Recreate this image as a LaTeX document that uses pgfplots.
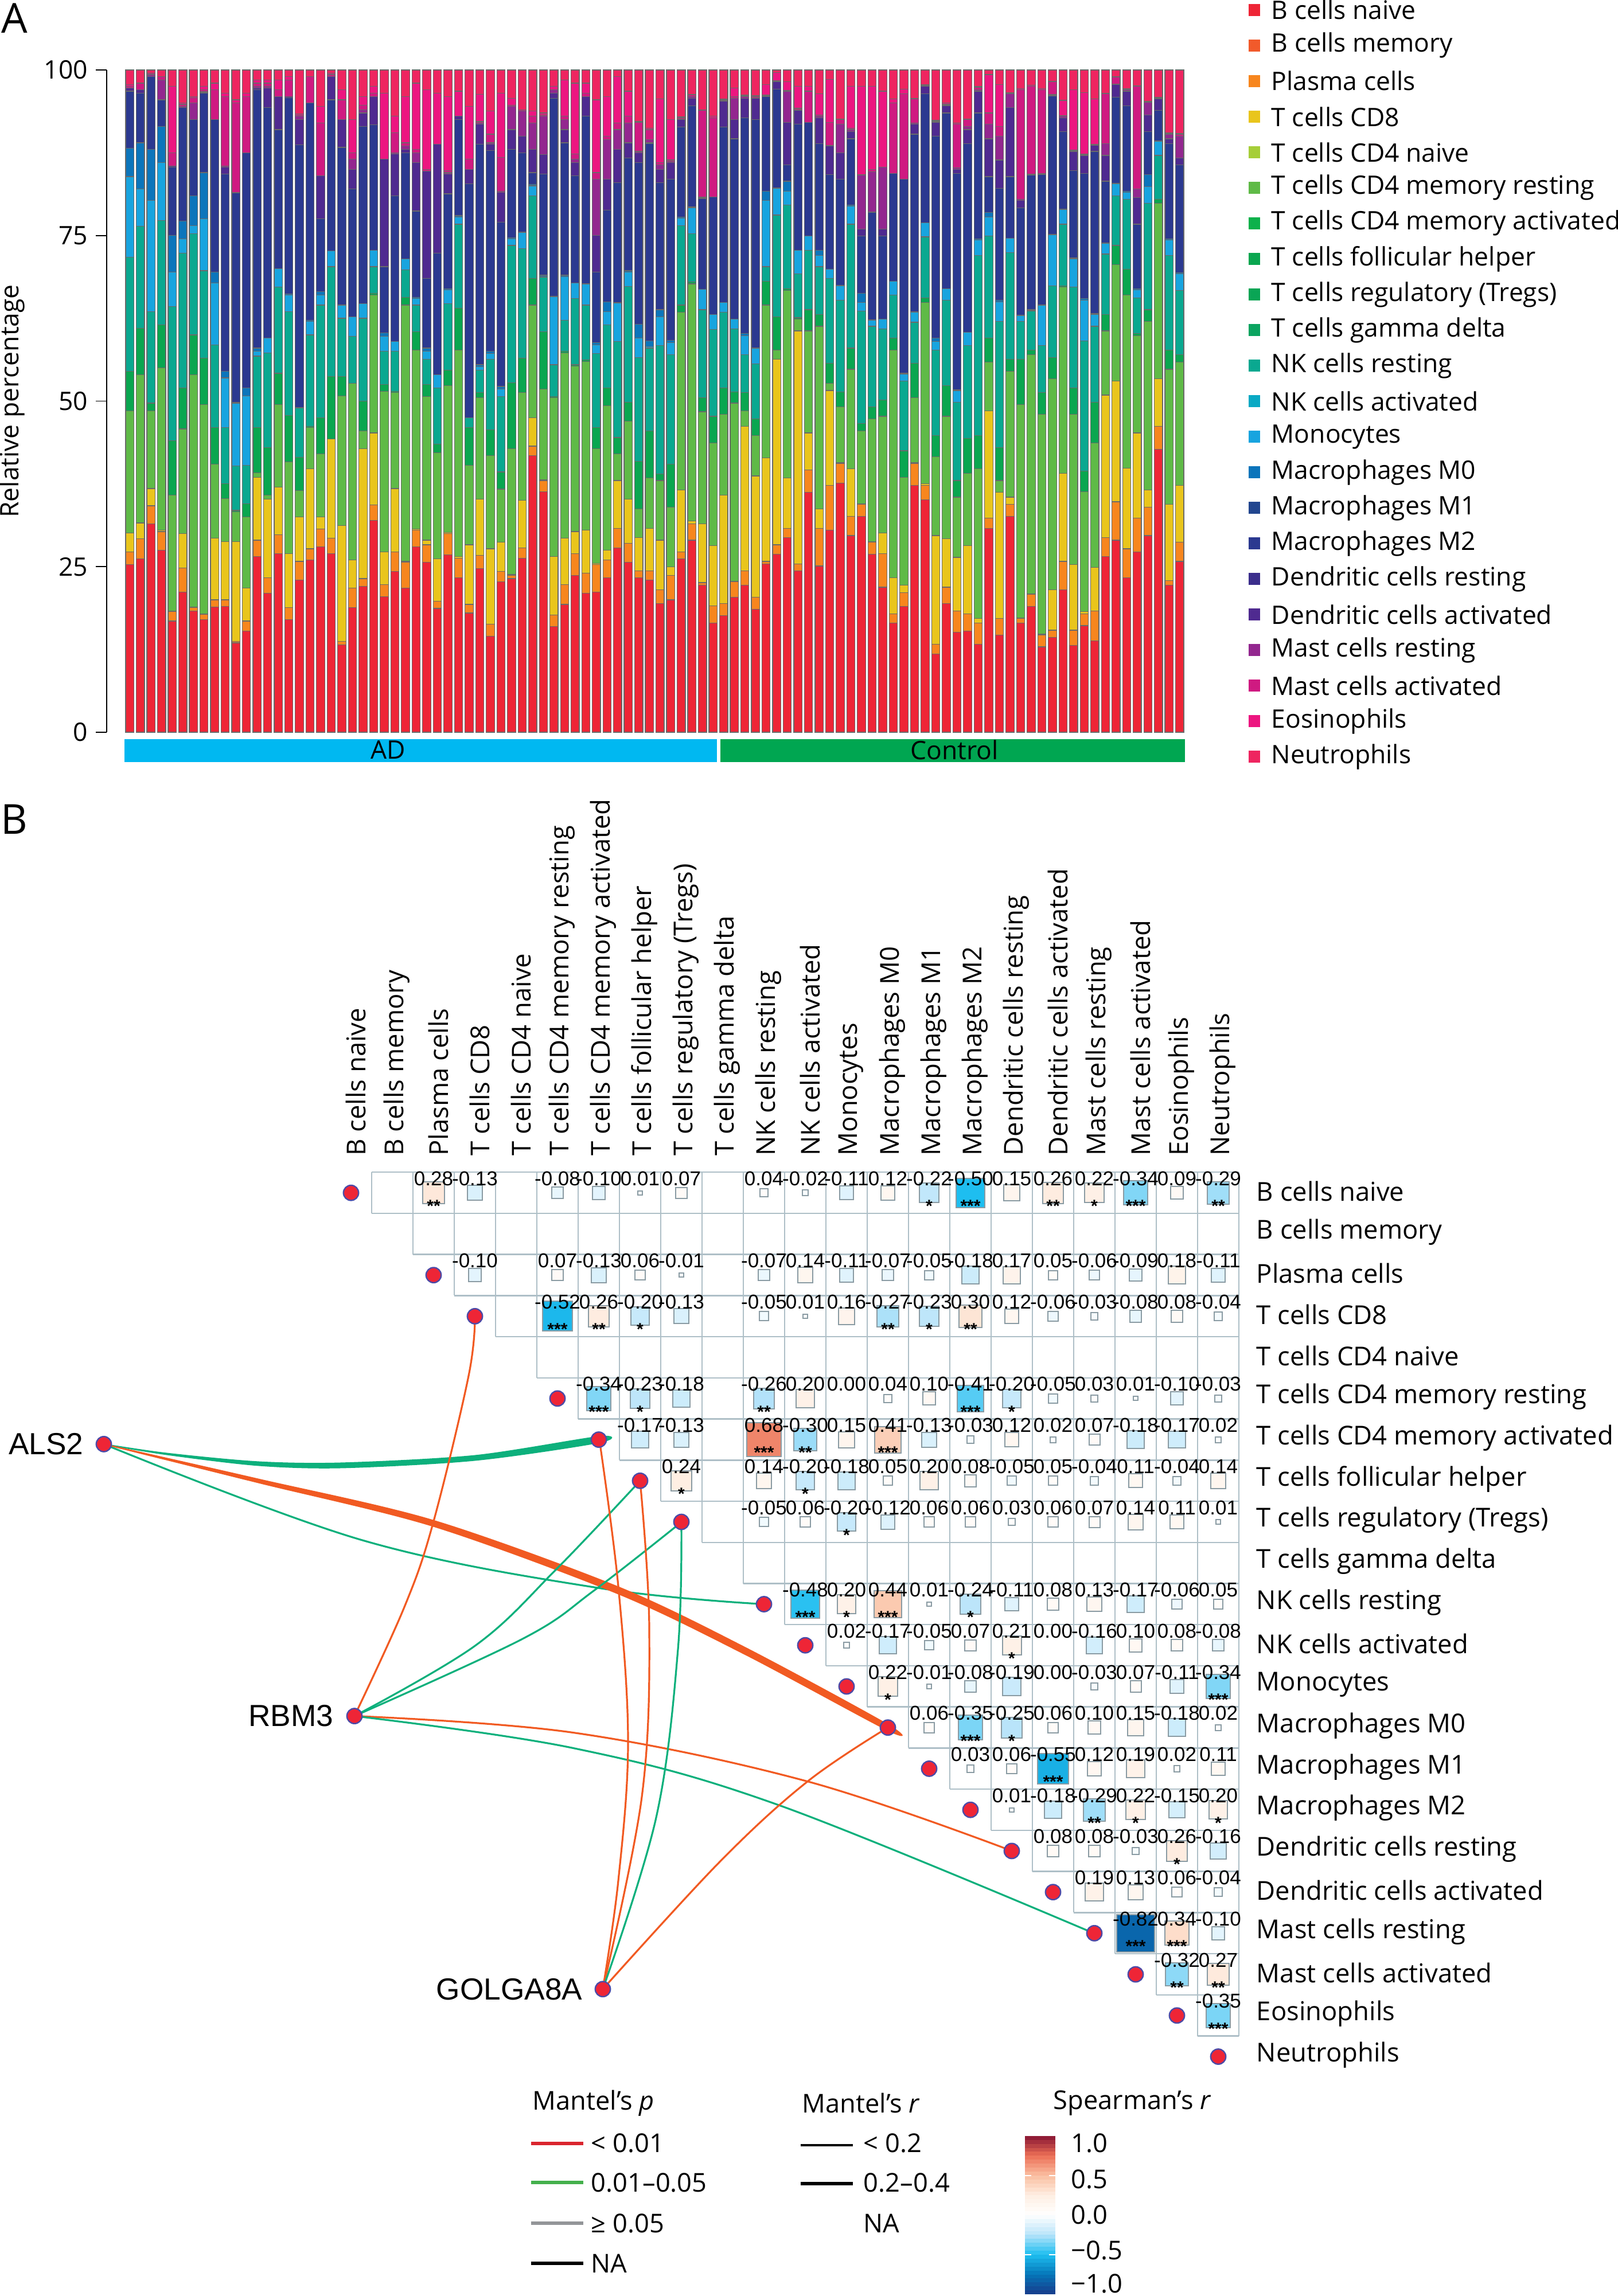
\documentclass[border=0pt]{standalone}
\usepackage{fontspec}
\usepackage{pgfplots}
\usepackage{pgfplotstable}
\pgfplotsset{compat=1.18}
\setmainfont{Open Sans}
\newfontfamily\hv{Liberation Sans}
\newcommand\lf{\fontsize{11.1}{13}\selectfont}
\newcommand\pf{\fontsize{11.35}{13}\selectfont}
\newcommand\lgf{\fontsize{11.3}{13}\selectfont}

\definecolor{c1}{HTML}{EE2536}\definecolor{c2}{HTML}{F15A2B}\definecolor{c3}{HTML}{F7861E}
\definecolor{c4}{HTML}{E9C51C}\definecolor{c5}{HTML}{A6CE39}\definecolor{c6}{HTML}{5FBA47}
\definecolor{c7}{HTML}{0DB14B}\definecolor{c8}{HTML}{0AA650}\definecolor{c9}{HTML}{0AA555}
\definecolor{c10}{HTML}{0BA460}\definecolor{c11}{HTML}{0AA890}\definecolor{c12}{HTML}{0AA9C4}
\definecolor{c13}{HTML}{18A4DF}\definecolor{c14}{HTML}{0C75BB}\definecolor{c15}{HTML}{22468F}
\definecolor{c16}{HTML}{2B3990}\definecolor{c17}{HTML}{3B2E8C}\definecolor{c18}{HTML}{4F2A90}
\definecolor{c19}{HTML}{93278F}\definecolor{c20}{HTML}{CF1A81}\definecolor{c21}{HTML}{EC1680}
\definecolor{c22}{HTML}{EE2560}
\definecolor{baredge}{HTML}{6A6A6A}
\definecolor{gridc}{HTML}{AEBFC7}
\definecolor{markedge}{HTML}{8A9BA3}
\definecolor{linkor}{HTML}{F15A22}
\definecolor{linkgr}{HTML}{0DB07C}
\definecolor{dotedge}{HTML}{4B4BA8}
\definecolor{stripad}{HTML}{00B8F1}
\definecolor{stripct}{HTML}{00A651}
\definecolor{lred}{HTML}{DA252E}
\definecolor{lgreen}{HTML}{44B04C}
\definecolor{lgrey}{HTML}{939598}

\pgfplotsset{colormap={spear}{rgb255(0cm)=(24,60,140); rgb255(1cm)=(5,118,185); rgb255(2cm)=(30,190,240); rgb255(3cm)=(185,228,250); rgb255(4cm)=(255,255,255); rgb255(5cm)=(254,238,226); rgb255(6cm)=(250,190,160); rgb255(7cm)=(235,110,85); rgb255(8cm)=(135,20,50)}}

% cumulative tops of the bands of each bar
\pgfplotstableread{
i naive plasma cd8 rest act nk mono m0 m2 dc mast mact eos neut
0 25.3 27.2 30.1 48.5 54.5 71.7 83.9 88.2 96.8 97.3 97.3 97.5 97.8 100
1 26.2 29.2 31.6 54 61 76.4 82 89 96.5 97 97 98 98 100
2 31.5 34.2 36.8 48.5 49.7 63.5 80.3 88 99 99 99.3 99.5 99.5 100
3 27.5 30.3 30.5 55 61.5 77.3 86 91.5 95.5 95.5 98.5 99 99 100
4 16.8 18.2 18.3 35.8 44 64.3 69.5 75 85.3 85.5 85.5 87.5 97.5 100
5 21.2 24.8 30 45.8 52 72.3 74.5 77.2 94.3 94.3 94.5 94.8 95 100
6 18.3 18.8 18.9 54 60 75.3 76.5 81 92.5 92.5 95 95.8 96 100
7 17 17.8 17.9 49.5 56.5 69.7 77.5 84.5 96.5 96.6 96.7 97 97.5 100
8 18.9 20 29.3 40.5 46 58.5 67.8 69.5 92.5 92.5 92.5 97 98 100
9 19 20 28.8 35.3 37.5 46 53.5 54.5 84.3 85.3 85.5 96 96.5 100
10 13.5 13.7 28.8 33.3 33.5 40.2 49.7 49.8 81.4 81.4 81.5 95 95.5 100
11 15.3 16.8 21.8 32.5 34.5 40.3 50.8 52 87.5 87.5 87.5 96 96.5 100
12 26.5 29 38.5 39.2 46 56.8 57.5 58 97 97.3 97.5 98 98.5 100
13 21 23.3 35.2 35.8 43 57.3 59.5 59.5 94.3 97.3 97.5 98 98.5 100
14 27 29.8 37 49.5 54.2 67.2 70 70 91 96 96 97 98.5 100
15 17 18.8 27 40.8 47.8 63.5 66 66.2 95.8 96 96 98.5 99 100
16 23 25.8 32.5 36.5 41.5 49 49 49 88.7 92.5 93 93.2 93.4 100
17 26 27.7 39.8 46 46.2 60 62 62.2 95 95 95 99 99 100
18 28 30.7 32.5 42 47.5 64.5 66 66.5 77.5 84 84 92 94.5 100
19 27 29.3 44.3 44.3 53.7 70.3 72.7 72.7 95.5 99 99 99.3 99.5 100
20 13.2 13.7 31.2 50.8 53.7 62.5 64.5 64.5 88.3 92.5 92.5 95.5 97 100
21 18.8 21.8 26 52.7 52.7 59.8 62.7 62.7 82 85 86.5 87.5 92.5 100
22 22 23.2 42.8 45.5 50 62.5 64.7 64.7 91.5 93.5 94 94.7 96 100
23 32 34.3 45.2 66 66.3 70.3 72.8 72.8 91.7 96 96 96.5 97.5 100
24 20.5 22.3 27.2 51.5 52.5 57.5 59.8 60.3 70.3 86.5 86.5 86.5 96.5 100
25 24.3 27.2 36.8 51.3 51.5 57.5 59 59 81 87.3 87.5 90.5 93 100
26 21.8 25.7 25.8 64.5 65.7 69.8 71.5 71.5 87.5 88 88.5 89 96 100
27 28 30.5 30.7 57.7 60.5 64.5 65.5 65.7 78.7 86 87.5 88 98 100
28 25.7 28.3 29 50.7 52.5 56.3 57.5 58 68.5 84.7 84.7 85 97 100
29 18.7 19.8 26.2 42.2 43.5 52 54 54 72.3 88.8 88.8 88.8 96.5 100
30 26.8 30 30.2 52.3 54.7 64.7 66.8 67 81.3 84.3 84.5 84.8 96 100
31 23.3 26.3 26.5 57.7 64 76.7 77.8 78 92.5 93 93 93 96.8 100
32 18 19.3 28.3 40.3 46 47.5 47.5 47.5 82.8 85 85 86.5 94.5 100
33 24.7 26.7 35.2 50.5 51.3 54.7 55.2 55.5 88.8 91.8 92 92.2 96.3 100
34 14.5 16.3 27.7 41.8 45.7 56.3 57.2 57.5 87.8 88.8 89 90.3 93.8 100
35 22.7 24.3 28.7 36.7 39.3 50.7 51.8 52.2 77 81.5 81.7 86.8 96.5 100
36 23.2 23.7 23.8 42.8 52.8 73.5 74.5 74.7 88 91 94.5 94.7 95.7 100
37 26.3 27.8 35 51.3 56.5 73 75.5 75.5 87.5 90 93.8 94 94 100
38 41.8 43.2 47.5 64.5 68.5 81 82.5 82.7 84.5 88 92 93 93.8 100
39 36.3 38 38.1 51.8 60.5 68.7 68.8 69 84.3 87.2 93 93.2 93.5 100
40 16 17.7 26.5 50.5 50.7 55.5 65.8 65.8 95.7 96.5 97 97 97.5 100
41 19.3 22.3 29.3 57.3 57.5 62.2 68.8 69 89 91 92.5 93 98.5 100
42 23.7 27 30.3 55.3 55.5 65.5 67.8 67.8 84 86 86.5 87.3 98 100
43 21 24 30.5 56 56.2 64.5 67.7 67.7 93 96 96 96.5 98 100
44 21.2 25.3 25.5 42.8 46 57.2 58.5 58.8 69.5 75 83.5 84.5 95.5 100
45 23.3 26 27.5 49.3 52 61.5 63.5 65 78.8 83.5 89.5 90 96 100
46 27.8 30.8 38 42 44.5 59 64.8 64.9 83 88 91 92 99 100
47 25.7 28.5 35.2 47 49.8 67.3 69.5 69.7 86.7 89 92 93 96.8 100
48 23.3 24.4 29.4 33.7 40.9 56.6 59.5 61.6 86 87.5 87.7 92.1 92.2 100
49 23 24.4 30.8 38.4 45.5 58 58.2 59.1 88.9 89 89.5 91 91.2 100
50 19.4 21.5 29 38 39 58.4 62.7 63.8 83 85 85.7 86 95.6 100
51 20 23.7 25 34 40.5 57 58.8 59.2 83.5 86 86.2 86.4 92.5 100
52 26.2 27.2 36.6 63.4 64.5 76.5 77.6 77.8 91.4 92.5 92.6 92.8 92.9 100
53 29 31.5 31.9 67.7 68 75.3 79.2 79.3 94.6 95.7 96 96.2 96.3 100
54 22.2 22.6 31.5 48.4 50.5 63.8 66.9 66.9 80.6 80.7 80.8 93.9 94 100
55 16.5 19.1 28.2 43.7 47.7 60.8 63.1 63.1 80.8 80.8 80.8 92.8 93 100
56 17.6 19.4 35.8 48 52 63.4 64.9 64.9 91.4 95.3 95.4 95.5 95.6 100
57 20.4 22.7 22.8 49.7 51.4 60.9 62.4 62.4 89.6 92.5 95.7 96 97.3 100
58 22.2 24.4 46.2 48.5 51.3 57 59.9 60.2 92.8 95.7 96 96.1 96.2 100
59 18.6 20.4 38.7 44.8 47.3 55.6 58 58 92.5 95.7 95.8 96 96.1 100
60 25.4 25.8 41.4 64.5 68.1 70.3 80.3 81.7 96 96 96.1 96.2 97.8 100
61 26.9 28.3 56.3 57.7 62.7 78.1 82.1 82.2 97.1 98.2 98.3 98.4 99.6 100
62 29.4 30.8 38.4 66.7 67 79.6 81.7 83.2 85.7 92.1 96.8 96.9 98.2 100
63 24.4 25.4 60.6 62.4 62.6 69.2 72.8 72.8 91.8 93.9 94 94.2 97.5 100
64 36.2 39.6 45.2 60.6 63.8 72.8 74.9 74.9 92.1 92.1 92.1 96.8 97.5 100
65 25.1 30.8 33.7 61.3 63.1 70.3 72 72.8 88.9 92.8 93 93.2 96.4 100
66 30.5 37.3 51.6 52.7 55.7 68.5 69.9 69.9 84.2 88.5 88.6 92.1 98.6 100
67 37.6 40.6 40.7 49.1 51.4 65.2 67.4 67.5 83.5 87.5 91.8 92.5 92.6 100
68 29.7 32.6 39.8 54.8 58 76.7 79.4 79.6 89.6 90.7 91 91.2 97.5 100
69 32.6 34.4 34.5 45.5 46.6 63.6 64.9 66.3 74.9 76 84.1 84.2 97.5 100
70 26.9 28.7 28.8 47.3 49.1 61.3 62.2 62.3 78.5 78.6 84.6 85 97.5 100
71 21.9 27 30.1 47.7 50.2 60.9 62.4 62.4 74.9 76 85.3 85.3 96.8 100
72 16.5 17.9 23.3 57.7 59.5 66 68.1 68.1 84.4 84.4 84.4 95 95.6 100
73 19 21.1 22.2 38.5 42.5 53 54.1 54.2 83.5 83.5 83.5 96.4 97.1 100
74 37.3 40.6 40.7 50.5 55.7 61.9 63.4 63.5 90.3 91.8 92 95.6 95.7 100
75 35.1 37.3 37.5 64.9 65.6 74.8 76.9 76.9 96.4 97.5 97.6 97.7 97.8 100
76 11.8 13.3 29.7 41.6 44.8 57.7 59 59.5 90 92.1 92.2 92.3 92.4 100
77 19.4 21.9 29.2 47.7 52.3 65.2 67 67 93.5 94.6 94.7 94.8 95 100
78 15.1 18.3 26.4 35.5 38 49.8 51.6 51.7 84.4 85 85.2 91.8 92 100
79 15.3 17.9 28.2 39.1 44.4 58.4 60.4 60.4 88.9 91 91.5 92.5 92.6 100
80 13.3 16.5 17.2 39.8 44.8 72 74.3 74.5 93.5 96.8 97 97.4 97.5 100
81 30.8 32.3 48.5 55.9 59.5 74.9 77.8 78.5 83.9 89.6 91.8 93.5 99.3 100
82 14.7 17.2 36.2 38 43 62 65 65.2 82.1 86.4 90 91.5 97.8 100
83 32.6 34.4 35.5 54.5 56.3 72.4 74.6 74.6 83.9 94.3 96.4 96.5 96.6 100
84 16.5 17.2 17.3 49.5 56.3 62 62.9 63 79.2 80.3 80.5 97 97.2 100
85 19 20.8 20.9 57 57.7 63.6 63.7 63.8 84.1 84.2 84.3 97.5 97.7 100
86 12.9 14.7 14.8 48 51.3 58.4 64.5 64.5 84.2 84.3 84.4 97 97.2 100
87 14.3 15.4 21.5 53.4 56.6 67.4 75.1 75.2 96.1 96.2 96.3 98.2 98.3 100
88 21.5 25.8 39.1 67.2 67.4 76.7 78.9 79 90.7 92.8 93 93.1 95.4 100
89 13.1 15.4 25.3 48 52 67.2 71.5 71.6 84.8 87.7 87.8 87.9 97 100
90 16.1 17.9 18.2 36.3 39.4 59.1 65.2 65.5 84.4 87.1 87.2 87.3 96.6 100
91 13.8 18.3 24.9 43.7 49.8 61.3 63.1 63.2 87.7 88.6 88.7 88.8 95.6 100
92 26.5 29.4 50.9 60.6 63.1 72.2 73.8 73.9 83.2 87.1 88.9 96.4 96.5 100
93 29 34.8 53 70.6 73.5 81 82.8 82.9 95.9 97.8 97.9 98.9 99 100
94 23.3 27.7 39.9 66 69.9 80.5 81.5 81.7 94.6 96.8 97 97.1 97.2 100
95 27.2 32.3 45.2 59.9 60.2 65.6 66.8 67 76.7 80.7 82 97.5 97.6 100
96 29.7 34 36.6 62 63.8 79.9 82.4 84.2 90.7 93.2 95.1 95.2 95.3 100
97 42.7 46.2 53.4 79.9 80.5 87.1 89.2 89.3 93.9 95.6 95.7 95.8 95.9 100
98 22.2 22.9 34.4 54.8 57.7 72 74.3 74.5 88.9 89.6 90.3 90.4 90.5 100
99 25.8 28.7 37.3 55.9 57 66.7 69.2 69.4 85.7 86.7 90 90.3 90.4 100
}\bars

% i = row, j = column of the correlogram, r = Spearman's r, n = stars
\pgfplotstableread{
i j r n
0 2 0.28 2
0 3 -0.13 0
0 5 -0.08 0
0 6 -0.10 0
0 7 0.01 0
0 8 0.07 0
0 10 0.04 0
0 11 -0.02 0
0 12 -0.11 0
0 13 0.12 0
0 14 -0.22 1
0 15 -0.50 3
0 16 0.15 0
0 17 0.26 2
0 18 0.22 1
0 19 -0.34 3
0 20 0.09 0
0 21 -0.29 2
2 3 -0.10 0
2 5 0.07 0
2 6 -0.13 0
2 7 0.06 0
2 8 -0.01 0
2 10 -0.07 0
2 11 0.14 0
2 12 -0.11 0
2 13 -0.07 0
2 14 -0.05 0
2 15 -0.18 0
2 16 0.17 0
2 17 0.05 0
2 18 -0.06 0
2 19 -0.09 0
2 20 0.18 0
2 21 -0.11 0
3 5 -0.52 3
3 6 0.26 2
3 7 -0.20 1
3 8 -0.13 0
3 10 -0.05 0
3 11 0.01 0
3 12 0.16 0
3 13 -0.27 2
3 14 -0.23 1
3 15 0.30 2
3 16 0.12 0
3 17 -0.06 0
3 18 -0.03 0
3 19 -0.08 0
3 20 0.08 0
3 21 -0.04 0
5 6 -0.34 3
5 7 -0.23 1
5 8 -0.18 0
5 10 -0.26 2
5 11 0.20 0
5 12 0.00 0
5 13 0.04 0
5 14 0.10 0
5 15 -0.41 3
5 16 -0.20 1
5 17 -0.05 0
5 18 0.03 0
5 19 0.01 0
5 20 -0.10 0
5 21 -0.03 0
6 7 -0.17 0
6 8 -0.13 0
6 10 0.68 3
6 11 -0.30 2
6 12 0.15 0
6 13 0.41 3
6 14 -0.13 0
6 15 -0.03 0
6 16 0.12 0
6 17 0.02 0
6 18 0.07 0
6 19 -0.18 0
6 20 -0.17 0
6 21 0.02 0
7 8 0.24 1
7 10 0.14 0
7 11 -0.20 1
7 12 -0.18 0
7 13 0.05 0
7 14 0.20 0
7 15 0.08 0
7 16 -0.05 0
7 17 0.05 0
7 18 -0.04 0
7 19 0.11 0
7 20 -0.04 0
7 21 0.14 0
8 10 -0.05 0
8 11 0.06 0
8 12 -0.20 1
8 13 -0.12 0
8 14 0.06 0
8 15 0.06 0
8 16 0.03 0
8 17 0.06 0
8 18 0.07 0
8 19 0.14 0
8 20 0.11 0
8 21 0.01 0
10 11 -0.48 3
10 12 0.20 1
10 13 0.44 3
10 14 0.01 0
10 15 -0.24 1
10 16 -0.11 0
10 17 0.08 0
10 18 0.13 0
10 19 -0.17 0
10 20 -0.06 0
10 21 0.05 0
11 12 0.02 0
11 13 -0.17 0
11 14 -0.05 0
11 15 0.07 0
11 16 0.21 1
11 17 0.00 0
11 18 -0.16 0
11 19 0.10 0
11 20 0.08 0
11 21 -0.08 0
12 13 0.22 1
12 14 -0.01 0
12 15 -0.08 0
12 16 -0.19 0
12 17 0.00 0
12 18 -0.03 0
12 19 0.07 0
12 20 -0.11 0
12 21 -0.34 3
13 14 0.06 0
13 15 -0.35 3
13 16 -0.25 1
13 17 0.06 0
13 18 0.10 0
13 19 0.15 0
13 20 -0.18 0
13 21 0.02 0
14 15 0.03 0
14 16 0.06 0
14 17 -0.55 3
14 18 0.12 0
14 19 0.19 0
14 20 0.02 0
14 21 0.11 0
15 16 0.01 0
15 17 -0.18 0
15 18 -0.29 2
15 19 0.22 1
15 20 -0.15 0
15 21 0.20 1
16 17 0.08 0
16 18 0.08 0
16 19 -0.03 0
16 20 0.26 1
16 21 -0.16 0
17 18 0.19 0
17 19 0.13 0
17 20 0.06 0
17 21 -0.04 0
18 19 -0.82 3
18 20 0.34 3
18 21 -0.10 0
19 20 -0.32 2
19 21 0.27 2
20 21 -0.35 3
}\corr

% rows that have a node on the diagonal
\pgfplotstableread{
i j
0 0
2 2
3 3
5 5
6 6
7 7
8 8
10 10
11 11
12 12
13 13
14 14
15 15
16 16
17 17
18 18
19 19
20 20
21 21
}\diag

\newcommand\lab[4][\lf]{\node[anchor=west,inner sep=0pt,font=#1] at (axis cs:#2,#3) {#4};}
\newcommand\legsq[2]{\addplot[only marks,mark=square*,mark size=2.4pt,mark options={draw=#1,fill=#1}] coordinates {(2187,#2)};}
\newcommand\barband[2]{\addplot[ybar,bar shift=0pt,bar width=3.6pt,fill=#2,draw=baredge,line width=0.3pt] table[x=i,y=#1] {\bars};}
\newcommand\link[3]{\addplot[smooth,tension=0.6,draw=#1,line width=#2] coordinates {#3};}
\newcommand\cname[2]{%
\node[rotate=90,anchor=west,inner sep=0pt,font=\pf] at (axis cs:{620+72*#1},2017) {#2};
\node[anchor=west,inner sep=0pt,font=\pf] at (axis cs:2190,{2078+71.7*#1}) {#2};}
\newcommand\starplot[2]{\addplot[only marks,mark size=0pt,
unbounded coords=discard,
y filter/.expression={\thisrow{n}==#1 ? y : nan},
nodes near coords={#2},
nodes near coords style={anchor=center,inner sep=0pt,black,font=\hv\bfseries\fontsize{7.5}{8}\selectfont},
] table[x expr=612+72*\thisrow{j},y expr=2081+71.7*\thisrow{i}+23,meta=r] {\corr};}

\begin{document}
\begin{tikzpicture}
\path[use as bounding box] (0,0) rectangle (705pt,1001pt);
% whole page in the pixels of the reference, y downwards
\begin{axis}[
at={(0,0)},anchor=south west,
scale only axis,width=705pt,height=1001pt,
xmin=0,xmax=2820,ymin=0,ymax=4004,y dir=reverse,
hide axis,clip=false,
colormap name=spear,
point meta min=-1,point meta max=1,
]
% panel letters
\node[font=\fontsize{18}{20}\selectfont,anchor=center] at (axis cs:25,33) {A};
\node[font=\fontsize{18}{20}\selectfont,anchor=center] at (axis cs:25,1430) {B};

% group strip
\addplot[draw=none,fill=stripad] coordinates {(217,1290)(1250,1290)(1250,1330)(217,1330)} --cycle;
\addplot[draw=none,fill=stripct] coordinates {(1256,1290)(2066,1290)(2066,1330)(1256,1330)} --cycle;
\node[font=\lf] at (axis cs:677,1309) {AD};
\node[font=\lf] at (axis cs:1664,1309) {Control};

% legend of panel A
\legsq{c1}{19}\legsq{c2}{81}\legsq{c3}{143}\legsq{c4}{205}\legsq{c5}{267}\legsq{c6}{329}
\legsq{c7}{391}\legsq{c8}{453}\legsq{c9}{515}\legsq{c10}{577}\legsq{c11}{639}\legsq{c12}{701}
\legsq{c13}{763}\legsq{c14}{825}\legsq{c15}{887}\legsq{c16}{949}\legsq{c17}{1011}\legsq{c18}{1073}
\legsq{c19}{1135}\legsq{c20}{1197}\legsq{c21}{1259}\legsq{c22}{1321}
\lab{2216}{19}{B cells naive}
\lab{2216}{81}{B cells memory}
\lab{2216}{143}{Plasma cells}
\lab{2216}{205}{T cells CD8}
\lab{2216}{267}{T cells CD4 naive}
\lab{2216}{329}{T cells CD4 memory resting}
\lab{2216}{391}{T cells CD4 memory activated}
\lab{2216}{453}{T cells follicular helper}
\lab{2216}{515}{T cells regulatory (Tregs)}
\lab{2216}{577}{T cells gamma delta}
\lab{2216}{639}{NK cells resting}
\lab{2216}{701}{NK cells activated}
\lab{2216}{763}{Monocytes}
\lab{2216}{825}{Macrophages M0}
\lab{2216}{887}{Macrophages M1}
\lab{2216}{949}{Macrophages M2}
\lab{2216}{1011}{Dendritic cells resting}
\lab{2216}{1073}{Dendritic cells activated}
\lab{2216}{1135}{Mast cells resting}
\lab{2216}{1197}{Mast cells activated}
\lab{2216}{1259}{Eosinophils}
\lab{2216}{1321}{Neutrophils}

% correlogram grid
\draw[gridc,line width=0.6pt] (axis cs:648,2045) -- (axis cs:2160,2045);
\draw[gridc,line width=0.6pt] (axis cs:2160,2045) -- (axis cs:2160,3551);
\pgfplotsinvokeforeach{0,...,20}{
\draw[gridc,line width=0.6pt] (axis cs:{648+72*#1},{2045+71.7*(#1+1)}) -- (axis cs:2160,{2045+71.7*(#1+1)});
\draw[gridc,line width=0.6pt] (axis cs:{648+72*#1},2045) -- (axis cs:{648+72*#1},{2045+71.7*(#1+1)});
}

% squares
\addplot[scatter,only marks,mark=square*,
point meta=explicit,
scatter/use mapped color={draw=markedge,fill=mapped color},
mark options={line width=0.5pt},
visualization depends on={9*sqrt(abs(\thisrow{r})) \as \markr},
scatter/@pre marker code/.append style={/tikz/mark size=\markr},
] table[x expr=612+72*\thisrow{j},y expr=2081+71.7*\thisrow{i},meta=r] {\corr};
% significance stars
\starplot{1}{*}
\starplot{2}{**}
\starplot{3}{***}
% numbers
\addplot[only marks,mark size=0pt,
point meta=explicit,
nodes near coords={\pgfmathprintnumber[fixed,fixed zerofill,precision=2,assume math mode=true]{\pgfplotspointmeta}},
nodes near coords style={anchor=center,yshift=6.25pt,inner sep=0pt,black,font=\hv\fontsize{8.75}{9}\selectfont},
] table[x expr=612+72*\thisrow{j},y expr=2081+71.7*\thisrow{i},meta=r] {\corr};

% column and row names
\cname{0}{B cells naive}
\cname{1}{B cells memory}
\cname{2}{Plasma cells}
\cname{3}{T cells CD8}
\cname{4}{T cells CD4 naive}
\cname{5}{T cells CD4 memory resting}
\cname{6}{T cells CD4 memory activated}
\cname{7}{T cells follicular helper}
\cname{8}{T cells regulatory (Tregs)}
\cname{9}{T cells gamma delta}
\cname{10}{NK cells resting}
\cname{11}{NK cells activated}
\cname{12}{Monocytes}
\cname{13}{Macrophages M0}
\cname{14}{Macrophages M1}
\cname{15}{Macrophages M2}
\cname{16}{Dendritic cells resting}
\cname{17}{Dendritic cells activated}
\cname{18}{Mast cells resting}
\cname{19}{Mast cells activated}
\cname{20}{Eosinophils}
\cname{21}{Neutrophils}

% Mantel links, the two thick ones swell from ALS2 onwards
\addplot[smooth,tension=0.5,fill=linkgr,draw=none] coordinates {(181,2518)(290,2534)(450,2549)(597,2551)(829,2538)(1045,2505)(1045,2517)(829,2548)(597,2561)(450,2557)(290,2538)(181,2520)} --cycle;
\link{linkgr}{0.8pt}{(181,2519)(630,2686)(1045,2770)(1332,2798)}
\addplot[smooth,tension=0.5,fill=linkor,draw=none] coordinates {(181,2518)(450,2579)(755,2651)(1078,2767)(1300,2873)(1548,3007)(1548,3019)(1300,2887)(1078,2781)(755,2663)(450,2587)(181,2520)} --cycle;
\link{linkor}{0.8pt}{(618,2993)(705,2803)(755,2657)(817,2400)(828,2296)}
\link{linkgr}{0.8pt}{(618,2993)(829,2870)(970,2737)(1116,2583)}
\link{linkgr}{0.8pt}{(618,2993)(912,2858)(1036,2774)(1188,2655)}
\link{linkor}{0.8pt}{(618,2993)(1000,3022)(1408,3107)(1764,3228)}
\link{linkgr}{0.8pt}{(618,2993)(1000,3049)(1357,3148)(1908,3372)}
\link{linkor}{0.8pt}{(1051,3469)(1078,3280)(1095,3038)(1078,2767)(1045,2511)}
\link{linkor}{0.8pt}{(1051,3469)(1119,3134)(1132,2840)(1116,2583)}
\link{linkgr}{0.8pt}{(1051,3469)(1144,3170)(1182,2877)(1188,2655)}
\link{linkor}{0.8pt}{(1051,3469)(1255,3247)(1408,3107)(1548,3013)}

% nodes
\addplot[only marks,mark=*,mark size=3.3pt,mark options={fill=c1,draw=dotedge,line width=0.6pt}]
 table[x expr=612+72*\thisrow{i},y expr=2081+71.7*\thisrow{i}] {\diag};
\addplot[only marks,mark=*,mark size=3.3pt,mark options={fill=c1,draw=dotedge,line width=0.6pt}]
 coordinates {(181,2519)(618,2993)(1051,3469)};
\node[font=\hv\fontsize{13.3}{14}\selectfont,anchor=east,inner sep=0pt] at (axis cs:146,2519) {ALS2};
\node[font=\hv\fontsize{13.3}{14}\selectfont,anchor=east,inner sep=0pt] at (axis cs:582,2993) {RBM3};
\node[font=\hv\fontsize{13.3}{14}\selectfont,anchor=east,inner sep=0pt] at (axis cs:1016,3469) {GOLGA8A};

% legends of panel B
\lab[\lgf]{928}{3668}{Mantel’s \textit{p}}
\lab[\lgf]{1030}{3738}{< 0.01}
\lab[\lgf]{1030}{3806}{0.01–0.05}
\lab[\lgf]{1030}{3877}{≥ 0.05}
\lab[\lgf]{1030}{3947}{NA}
\lab[\lgf]{1398}{3668}{Mantel’s \textit{r}}
\lab[\lgf]{1505}{3738}{< 0.2}
\lab[\lgf]{1505}{3806}{0.2–0.4}
\lab[\lgf]{1505}{3877}{NA}
\lab[\lgf]{1836}{3668}{Spearman’s \textit{r}}
\lab[\lgf]{1867}{3738}{1.0}
\lab[\lgf]{1867}{3800}{0.5}
\lab[\lgf]{1867}{3862}{0.0}
\lab[\lgf]{1867}{3924}{−0.5}
\lab[\lgf]{1867}{3982}{−1.0}
\addplot[draw=lred,line width=1.7pt] coordinates {(926,3738)(1017,3738)};
\addplot[draw=lgreen,line width=1.7pt] coordinates {(926,3806)(1017,3806)};
\addplot[draw=lgrey,line width=1.7pt] coordinates {(926,3877)(1017,3877)};
\addplot[draw=black,line width=1.7pt] coordinates {(926,3947)(1017,3947)};
\addplot[draw=black,line width=0.8pt] coordinates {(1396,3741)(1487,3741)};
\addplot[draw=black,line width=1.7pt] coordinates {(1396,3808)(1487,3808)};
% colour key: a thick line that takes its colour from the map
\addplot[mesh,line width=13.25pt,line cap=butt,point meta=explicit] table[x=x,y=y,meta=m] {
x y m
1813.5 3725 1
1813.5 3732 0.95
1813.5 3739 0.9
1813.5 3746 0.85
1813.5 3752 0.8
1813.5 3759 0.75
1813.5 3766 0.7
1813.5 3773 0.65
1813.5 3780 0.6
1813.5 3787 0.55
1813.5 3794 0.5
1813.5 3801 0.45
1813.5 3808 0.4
1813.5 3815 0.35
1813.5 3822 0.3
1813.5 3828 0.25
1813.5 3835 0.2
1813.5 3842 0.15
1813.5 3849 0.1
1813.5 3856 0.05
1813.5 3863 0
1813.5 3870 -0.05
1813.5 3877 -0.1
1813.5 3884 -0.15
1813.5 3891 -0.2
1813.5 3897 -0.25
1813.5 3904 -0.3
1813.5 3911 -0.35
1813.5 3918 -0.4
1813.5 3925 -0.45
1813.5 3932 -0.5
1813.5 3939 -0.55
1813.5 3946 -0.6
1813.5 3953 -0.65
1813.5 3960 -0.7
1813.5 3967 -0.75
1813.5 3973 -0.8
1813.5 3980 -0.85
1813.5 3987 -0.9
1813.5 3994 -0.95
1813.5 4001 -1
};
\addplot[draw=white,line width=0.5pt] coordinates {(1787,3794)(1798,3794)};
\addplot[draw=white,line width=0.5pt] coordinates {(1829,3794)(1840,3794)};
\addplot[draw=white,line width=0.5pt] coordinates {(1787,3932)(1798,3932)};
\addplot[draw=white,line width=0.5pt] coordinates {(1829,3932)(1840,3932)};
\end{axis}

% panel A bars
\begin{axis}[
at={(46.5pt,681.75pt)},anchor=south west,
scale only axis,width=470pt,height=288.75pt,
xmin=-2.177,xmax=99.5,ymin=0,ymax=100,
clip=false,
axis y line*=left,axis x line=none,
axis line style={-,line width=0.4pt},
xtick=\empty,
ytick={0,25,50,75,100},
tick align=outside,
major tick length=4.75pt,
tick style={black,line width=0.4pt},
ticklabel style={font=\lf},
/pgf/number format/assume math mode=true,
ylabel={Relative percentage},
ylabel style={font=\lf,at={(axis description cs:-0.0878,0.5)},anchor=center},
]
\barband{neut}{c22}
\barband{eos}{c21}
\barband{mact}{c20}
\barband{mast}{c19}
\barband{dc}{c18}
\barband{m2}{c16}
\barband{m0}{c14}
\barband{mono}{c13}
\barband{nk}{c11}
\barband{act}{c8}
\barband{rest}{c6}
\barband{cd8}{c4}
\barband{plasma}{c3}
\barband{naive}{c1}
\end{axis}
\end{tikzpicture}
\end{document}
